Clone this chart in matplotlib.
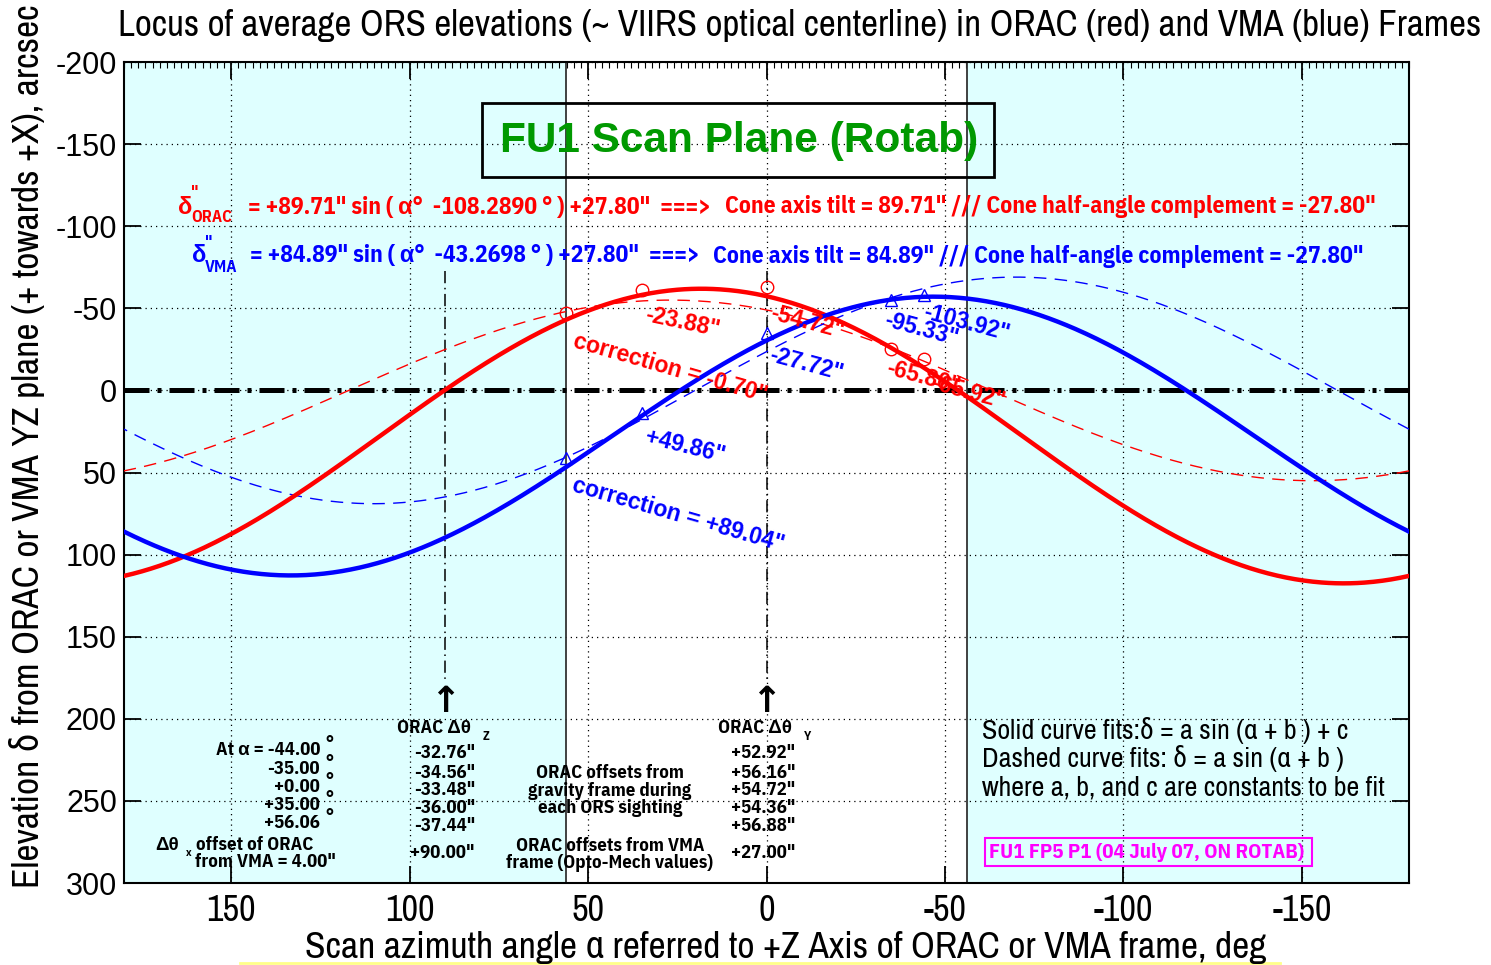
import numpy as np
import matplotlib
matplotlib.use("Agg")
import matplotlib.pyplot as plt
from matplotlib.patches import Rectangle
from matplotlib.lines import Line2D
from matplotlib.ticker import MultipleLocator

plt.rcParams['axes.unicode_minus'] = False

W, H = 1491, 965
NARROW = ["Archivo Narrow", "Roboto Condensed", "PT Sans Narrow", "IBM Plex Sans Condensed",
          "Liberation Sans", "DejaVu Sans"]
NARROW_B = ["IBM Plex Sans Condensed", "Liberation Sans", "DejaVu Sans"]
WIDE = ["Liberation Sans", "DejaVu Sans"]

# sine fits: delta = a sin(alpha + b) + c   (arcsec, deg)
orac_a, orac_b, orac_c = 89.71, -108.2890, 27.80
vma_a, vma_b, vma_c = 84.89, -43.2698, 27.80
# dashed fits without offset: delta = a sin(alpha + b)
orac_dash_a, orac_dash_b = 55.0, -117.0
vma_dash_a, vma_dash_b = 69.0, -20.0

# ORS sighting azimuths and averaged elevations
alpha_pts = [-44.00, -35.00, 0.00, 35.00, 56.06]
orac_pts = [-19, -25, -63, -61, -47]
vma_pts = [-58, -55, -35, 14, 41]

# ORAC offsets from gravity frame at each sighting
dtheta_z = ['-32.76"', '-34.56"', '-33.48"', '-36.00"', '-37.44"']
dtheta_y = ['+52.92"', '+56.16"', '+54.72"', '+54.36"', '+56.88"']
alpha_lbl = ['At \u03b1 = -44.00', '-35.00', '+0.00', '+35.00', '+56.06']
optomech_z, optomech_y = '+90.00"', '+27.00"'

x_ticks = [150, 100, 50, 0, -50, -100, -150]
y_ticks = [-200, -150, -100, -50, 0, 50, 100, 150, 200, 250, 300]
cyan_edge = 56.06

# correction labels: (text, alpha, delta, rotation, colour)
corr_labels = [
    ('-23.88"', 23.6, -41.4, -12, 'red'),
    ('correction = -0.70"', 27.0, -13.4, -16, 'red'),
    ('-54.72"', -11.5, -41.4, -15, 'red'),
    ('-65.80"', -43.8, -8.0, -15, 'red'),
    ('-65.92"', -56.5, 1.0, -15, 'red'),
    ('-27.72"', -11.2, -15.8, -15, 'blue'),
    ('+49.86"', 22.8, 34.0, -14, 'blue'),
    ('correction = +89.04"', 24.7, 76.0, -16, 'blue'),
    ('-95.33"', -43.3, -37.0, -15, 'blue'),
    ('-103.92"', -55.9, -40.8, -15, 'blue'),
]


def fpx(x, y):
    return x / W, 1 - y / H


fig = plt.figure(figsize=(W / 100, H / 100), dpi=100)
ax = fig.add_axes([124 / W, 1 - 883 / H, (1409 - 124) / W, (883 - 62) / H])

ax.set_xlim(180, -180)
ax.set_ylim(300, -200)
ax.axvspan(cyan_edge, 180, color='#dfffff', zorder=0, lw=0)
ax.axvspan(-180, -cyan_edge, color='#dfffff', zorder=0, lw=0)
ax.axvline(cyan_edge, color='#333333', lw=1.3, zorder=1)
ax.axvline(-cyan_edge, color='#333333', lw=1.3, zorder=1)

ax.grid(True, color='k', linewidth=0.9, linestyle=(0, (1, 3.2)), zorder=1)
ax.set_axisbelow(True)

alpha = np.linspace(-180, 180, 721)
orac = orac_a * np.sin(np.radians(alpha + orac_b)) + orac_c
vma = vma_a * np.sin(np.radians(alpha + vma_b)) + vma_c
orac_d = orac_dash_a * np.sin(np.radians(alpha + orac_dash_b))
vma_d = vma_dash_a * np.sin(np.radians(alpha + vma_dash_b))

ax.plot(alpha, orac_d, color='red', lw=1.0, dashes=(9, 6), zorder=3)
ax.plot(alpha, vma_d, color='blue', lw=1.0, dashes=(9, 6), zorder=3)
ax.plot(alpha, orac, color='red', lw=3.2, zorder=4)
ax.plot(alpha, vma, color='blue', lw=3.2, zorder=4)
ax.plot(alpha_pts, orac_pts, 'o', mfc='none', mec='red', ms=9, mew=1, zorder=5)
ax.plot(alpha_pts, vma_pts, '^', mfc='none', mec='blue', ms=9, mew=1, zorder=5)

# zero reference and the two sighting markers
ax.axhline(0, color='k', lw=3.6, dashes=(5, 1.6, 0.8, 1.6), zorder=2)
for a in (90, 0):
    ax.plot([a, a], [-73, 178], color='k', lw=1.1, dashes=(8, 3, 1, 3), zorder=2)
    ax.text(a, 190, '\u2191', fontsize=26, weight='bold', ha='center', va='center',
            family='DejaVu Sans', zorder=6)

for txt, a, d, rot, col in corr_labels:
    ax.text(a, d, txt, color=col, fontsize=16.5, weight='bold', family=WIDE,
            rotation=rot, rotation_mode='anchor', ha='center', va='center', zorder=6)

ax.set_xticks(x_ticks)
ax.set_yticks(y_ticks)
ax.xaxis.set_minor_locator(MultipleLocator(2))
ax.tick_params(which='major', direction='in', length=12, width=1.3, top=True, right=True,
               pad=8)
ax.tick_params(which='minor', direction='in', length=4, width=0.8, top=True, bottom=False)
for lab in ax.get_xticklabels():
    lab.set_fontfamily(NARROW)
    lab.set_fontsize(26)
for lab in ax.get_yticklabels():
    lab.set_fontfamily(WIDE)
    lab.set_fontsize(22)
ax.tick_params(axis='y', pad=5)
for sp in ax.spines.values():
    sp.set_linewidth(1.5)

# headline box
ax.add_patch(Rectangle((482 / W, 1 - 177 / H), (994 - 482) / W, 74 / H, transform=fig.transFigure,
                       fill=False, ec='k', lw=2, zorder=7))
fig.text(*fpx(739, 141), 'FU1 Scan Plane (Rotab)', color='#009900', fontsize=30.5,
         weight='bold', family=WIDE, ha='center', va='center')

# fitted equations
eq_kw = dict(fontsize=17, weight='bold', family=NARROW_B, va='center')
sub_kw = dict(fontsize=12, weight='bold', family=NARROW_B, va='center')
fig.text(*fpx(178, 207), '\u03b4', color='red', **eq_kw)
fig.text(*fpx(191, 193), '"', color='red', **sub_kw)
fig.text(*fpx(191, 218), 'ORAC', color='red', **sub_kw)
fig.text(*fpx(248, 207), '= +89.71" sin ( \u03b1\u00b0  -108.2890 \u00b0 ) +27.80"  ===>',
         color='red', **eq_kw)
fig.text(*fpx(725, 207), 'Cone axis tilt = 89.71" /// Cone half-angle complement = -27.80"',
         color='red', **eq_kw)
fig.text(*fpx(192, 256), '\u03b4', color='blue', **eq_kw)
fig.text(*fpx(205, 242), '"', color='blue', **sub_kw)
fig.text(*fpx(205, 267), 'VMA', color='blue', **sub_kw)
fig.text(*fpx(250, 256), '= +84.89" sin ( \u03b1\u00b0  -43.2698 \u00b0 ) +27.80"  ===>',
         color='blue', **eq_kw)
fig.text(*fpx(713, 256), 'Cone axis tilt = 84.89" /// Cone half-angle complement = -27.80"',
         color='blue', **eq_kw)

# sighting table
tb = dict(fontsize=13.5, weight='bold', family=NARROW_B, va='center', color='k')
rows_y = [750, 769, 787, 805, 823]
for lbl, y in zip(alpha_lbl, rows_y):
    fig.text(*fpx(320, y), lbl, ha='right', **tb)
    fig.text(*fpx(325, y - 6), '\u00b0', ha='left', **tb)
fig.text(*fpx(155, 845), '\u0394\u03b8', ha='left', **tb)
fig.text(*fpx(186, 853), 'x', ha='left', fontsize=8, weight='bold', family=NARROW_B, va='center')
fig.text(*fpx(196, 845), 'offset of ORAC', ha='left', **tb)
fig.text(*fpx(195, 862), 'from VMA = 4.00"', ha='left', **tb)

fig.text(*fpx(397, 728), 'ORAC \u0394\u03b8', ha='left', **tb)
fig.text(*fpx(483, 737), 'Z', ha='left', fontsize=9, weight='bold', family=NARROW_B, va='center')
fig.text(*fpx(718, 728), 'ORAC \u0394\u03b8', ha='left', **tb)
fig.text(*fpx(804, 737), 'Y', ha='left', fontsize=9, weight='bold', family=NARROW_B, va='center')
for vz, vy, y in zip(dtheta_z, dtheta_y, [753, 773, 790, 808, 826]):
    fig.text(*fpx(414, y), vz, ha='left', **tb)
    fig.text(*fpx(731, y), vy, ha='left', **tb)
fig.text(*fpx(410, 853), optomech_z, ha='left', **tb)
fig.text(*fpx(731, 853), optomech_y, ha='left', **tb)
for txt, y in [('ORAC offsets from', 773), ('gravity frame during', 791),
               ('each ORS sighting', 808), ('ORAC offsets from VMA', 846),
               ('frame (Opto-Mech values)', 863)]:
    fig.text(*fpx(610, y), txt, ha='center', **tb)

# fit legend
lg = dict(fontsize=20.2, family=NARROW, va='center', ha='left', color='k')
fig.text(*fpx(982, 731), 'Solid curve fits:\u03b4 = a sin (\u03b1 + b ) + c', **lg)
fig.text(*fpx(982, 759), 'Dashed curve fits: \u03b4 = a sin (\u03b1 + b )', **lg)
fig.text(*fpx(982, 788), 'where a, b, and c are constants to be fit', **lg)

fig.text(*fpx(1147, 852), 'FU1 FP5 P1 (04 July 07, ON ROTAB)', color='#ff00ff', fontsize=15,
         weight='bold', family=NARROW_B, ha='center', va='center')
ax.add_patch(Rectangle((985 / W, 1 - 866 / H), (1312 - 985) / W, 28 / H, transform=fig.transFigure,
                       fill=False, ec='#ff00ff', lw=1.5, zorder=7))

# titles
fig.text(*fpx(800, 25), 'Locus of average ORS elevations (~ VIIRS optical centerline) in ORAC (red) '
         'and VMA (blue) Frames', fontsize=26.7, family=NARROW, ha='center', va='center')
fig.text(*fpx(786, 948), 'Scan azimuth angle \u03b1 referred to +Z Axis of ORAC or VMA frame, deg',
         fontsize=27, family=NARROW, ha='center', va='center')
fig.text(*fpx(27, 446), 'Elevation \u03b4 from ORAC or VMA YZ plane (+ towards +X), arcsec',
         fontsize=27, family=NARROW, ha='center', va='center', rotation=90)
fig.add_artist(Line2D([240 / W, 1280 / W], [1 - 963 / H] * 2, color='#ffff88', lw=2))

fig.savefig('out.png', dpi=100)
